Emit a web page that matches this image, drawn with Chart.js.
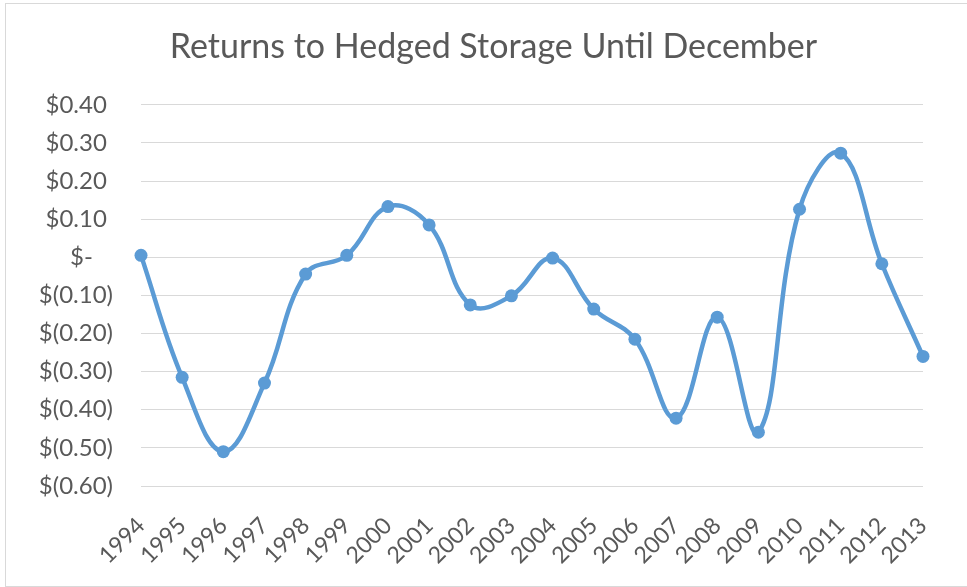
<!DOCTYPE html>
<html>
<head>
<meta charset="utf-8">
<title>Returns to Hedged Storage Until December</title>
<script src="https://cdn.jsdelivr.net/npm/chart.js@4.4.1/dist/chart.umd.min.js"></script>
<style>
  html, body { margin: 0; padding: 0; background: #fff; }
  .frame {
    position: absolute; left: 5px; top: 3px;
    width: 990px; height: 582px;
    border: 1px solid #d9d9d9;
  }
  #wrap { position: absolute; left: 0; top: 0; width: 967px; height: 587px; }
</style>
</head>
<body>
<div class="frame"></div>
<div id="wrap"><canvas id="storageChart" width="967" height="587"></canvas></div>
<script>
// Years along the bottom axis
const years = ['1994', '1995', '1996', '1997', '1998', '1999', '2000', '2001', '2002', '2003',
               '2004', '2005', '2006', '2007', '2008', '2009', '2010', '2011', '2012', '2013'];

// Return per bushel from hedged storage held until December ($)
const returns = [0.005, -0.315, -0.51, -0.33, -0.044, 0.005, 0.133, 0.085, -0.125, -0.101,
                 -0.002, -0.136, -0.215, -0.422, -0.157, -0.459, 0.126, 0.273, -0.017, -0.26];

// Value axis range
const yMin = -0.6;
const yMax = 0.4;
const yStep = 0.1;

const textColor = '#595959';
const fontFamily = 'Lato, "Open Sans", sans-serif';

// Accounting style labels: $0.10, $-, $(0.10)
function dollars(value) {
    if (Math.abs(value) < 1e-9) return '$-\u2007 ';
    if (value < 0) return '$(' + Math.abs(value).toFixed(2) + ')';
    return '$' + value.toFixed(2) + ' ';
}

const ctx = document.getElementById('storageChart').getContext('2d');
new Chart(ctx, {
    type: 'line',
    data: {
        labels: years,
        datasets: [{
            data: returns,
            borderColor: '#5b9bd5',
            backgroundColor: '#5b9bd5',
            borderWidth: 4.5,
            pointRadius: 6.5,
            pointBorderWidth: 0,
            pointHoverRadius: 7,
            tension: 0.4,
            fill: false
        }]
    },
    options: {
        responsive: false,
        animation: false,
        devicePixelRatio: 1,
        layout: {
            padding: { left: 20, right: 0, top: 0, bottom: 0 }
        },
        plugins: {
            legend: { display: false },
            tooltip: { enabled: false },
            title: {
                display: true,
                text: 'Returns to Hedged Storage Until December',
                color: textColor,
                font: { family: fontFamily, size: 34, weight: 'normal' },
                padding: { top: 27, bottom: 37 }
            }
        },
        scales: {
            x: {
                grid: { display: false },
                border: { display: false },
                ticks: {
                    color: textColor,
                    font: { family: fontFamily, size: 23 },
                    minRotation: 45,
                    maxRotation: 45,
                    autoSkip: false,
                    padding: 18
                },
                afterFit: function (scale) {
                    scale.height = 101;
                }
            },
            y: {
                min: yMin,
                max: yMax,
                grid: { color: '#d9d9d9', lineWidth: 1, drawTicks: false },
                border: { display: false },
                ticks: {
                    stepSize: yStep,
                    callback: dollars,
                    color: textColor,
                    font: { family: fontFamily, size: 24 },
                    padding: 28
                },
                afterFit: function (scale) {
                    scale.width = 121;
                }
            },
            // empty strip on the right so the plot ends where the title is centred
            yRight: {
                position: 'right',
                min: yMin,
                max: yMax,
                grid: { display: false },
                border: { display: false },
                ticks: { display: false },
                afterFit: function (scale) {
                    scale.width = 44;
                }
            }
        }
    }
});
</script>
</body>
</html>
